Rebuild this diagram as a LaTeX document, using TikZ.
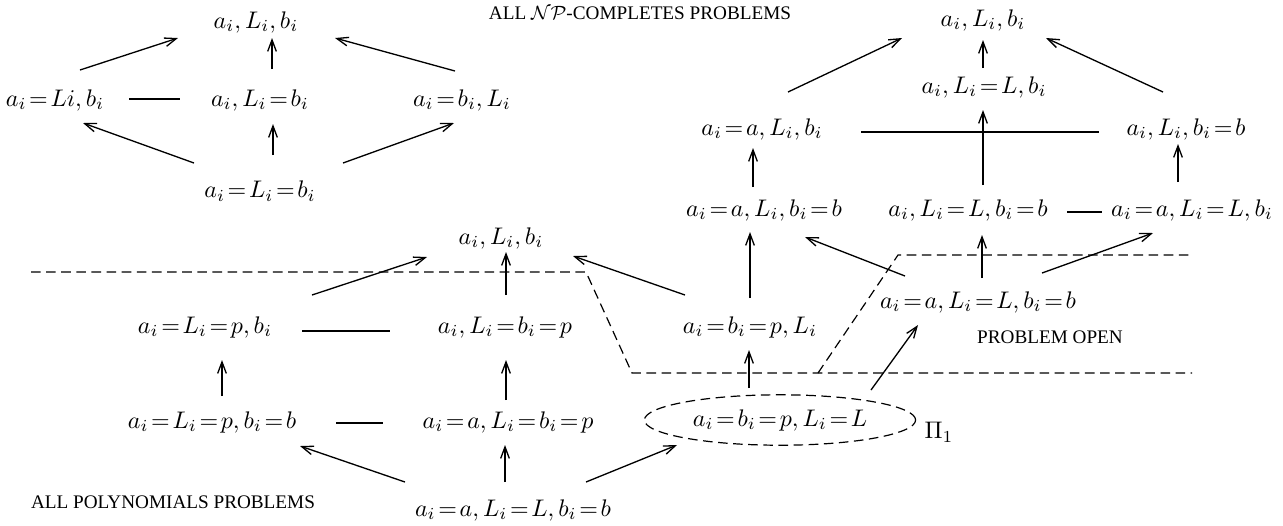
\documentclass[tikz,border=0pt]{standalone}
\usepackage{fontspec}
\setmainfont{Liberation Serif}
\usetikzlibrary{arrows.meta,shapes.geometric}
\newcommand{\eq}{\mkern2mu{=}\mkern2mu}

\begin{document}
\begin{tikzpicture}[x=0.41667pt, y=-0.41667pt,
		>={Straight Barb[length=4.8pt,width=3.6pt]},   %Pfeilspitzen
		conn/.style={line width=0.55pt},
		border/.style={line width=0.5pt, dash pattern=on 4pt off 2.3pt},
		caption/.style={font=\fontsize{8}{9}\selectfont},
		every node/.style={inner sep=0pt}]
	%Bildbereich
	\useasboundingbox (0,0) rectangle (1283,525);
	%Beschriftungen
	\node[caption] (npc) at (640,13) {ALL $\mathcal{N}\mathcal{P}$-COMPLETES PROBLEMS};
	\node[caption] (poly) at (173,502) {ALL POLYNOMIALS PROBLEMS};
	\node[caption] (open) at (1050,337) {PROBLEM OPEN};
	%Grenzen zeichnen
	\draw[border] (31,272) -- (586,272) -- (632,373) -- (1192,373);
	\draw[border] (818,373) -- (898,255) -- (1192,255);
	%Knoten oben links
	\node (tlA) at (256,22) {$a_i, L_i, b_i$};
	\node (tlB) at (55,100) {$a_i\eq Li, b_i$};
	\node (tlC) at (260,100) {$a_i, L_i\eq b_i$};
	\node (tlD) at (462,100) {$a_i\eq b_i, L_i$};
	\node (tlE) at (260,191) {$a_i\eq L_i\eq b_i$};
	%Knoten oben rechts
	\node (trA) at (983,20) {$a_i, L_i, b_i$};
	\node (trB) at (984,87) {$a_i, L_i\eq L, b_i$};
	\node (trC) at (762,129) {$a_i\eq a, L_i, b_i$};
	\node (trD) at (1186,129) {$a_i, L_i, b_i\eq b$};
	\node (trE) at (764,210) {$a_i\eq a, L_i, b_i\eq b$};
	\node (trF) at (968,210) {$a_i, L_i\eq L, b_i\eq b$};
	\node (trG) at (1192,210) {$a_i\eq a, L_i\eq L, b_i$};
	%Knoten unten
	\node (mA) at (501,238) {$a_i, L_i, b_i$};
	\node (mB) at (205,327) {$a_i\eq L_i\eq p, b_i$};
	\node (mC) at (505,327) {$a_i, L_i\eq b_i\eq p$};
	\node (mD) at (750,327) {$a_i\eq b_i\eq p, L_i$};
	\node (mE) at (978,302) {$a_i\eq a, L_i\eq L, b_i\eq b$};
	\node (mF) at (212,422) {$a_i\eq L_i\eq p, b_i\eq b$};
	\node (mG) at (508,422) {$a_i\eq a, L_i\eq b_i\eq p$};
	\node[ellipse, draw, border, minimum width=113pt, minimum height=21pt] (mH) at (780,420) {$a_i\eq b_i\eq p, L_i\eq L$};
	\node (pi) at (939,432) {$\Pi_1$};
	\node (mI) at (513,510) {$a_i\eq a, L_i\eq L, b_i\eq b$};
	%Pfeile oben links
	\foreach \a/\sa/\b/\sb in {tlB/{25,-30}/tlA/{-78,16}, tlC/{12,-31}/tlA/{16,16},
		tlD/{-7,-29}/tlA/{79,16}, tlE/{-66,-28}/tlB/{28,23}, tlE/{13,-36}/tlC/{13,24},
		tlE/{83,-28}/tlD/{-8,23}}
		\draw[conn,->] ([shift={(\sa)}]\a.center) -- ([shift={(\sb)}]\b.center);
	%Pfeile oben rechts
	\foreach \a/\sa/\b/\sb in {trC/{26,-37}/trA/{-81,18}, trB/{-1,-19}/trA/{0,20},
		trD/{-23,-37}/trA/{63,18}, trF/{15,-25}/trB/{-1,23}, trE/{-11,-23}/trC/{-9,19},
		trG/{-14,-28}/trD/{-8,15}}
		\draw[conn,->] ([shift={(\sa)}]\a.center) -- ([shift={(\sb)}]\b.center);
	%Pfeile unten
	\foreach \a/\sa/\b/\sb in {mB/{107,-32}/mA/{-74,19}, mC/{1,-32}/mA/{5,14},
		mD/{-65,-32}/mA/{72,18}, mF/{10,-26}/mB/{17,33}, mG/{-2,-22}/mC/{1,33},
		mI/{-108,-28}/mF/{88,24}, mI/{-8,-28}/mG/{-3,23}, mI/{73,-28}/mH/{-103,25},
		mD/{0,-29}/trE/{-14,22}, mH/{-31,-32}/mD/{-1,23}, mH/{91,-30}/mE/{-60,23},
		mE/{-73,-26}/trE/{41,27}, mE/{4,-24}/trF/{14,25}, mE/{64,-29}/trG/{-39,23}}
		\draw[conn,->] ([shift={(\sa)}]\a.center) -- ([shift={(\sb)}]\b.center);
	%Querverbindungen
	\draw[conn] ([shift={(74,-1)}]tlB.center) -- ([shift={(-80,-1)}]tlC.center);
	\draw[conn] ([shift={(99,3)}]trC.center) -- ([shift={(-87,3)}]trD.center);
	\draw[conn] ([shift={(99,2)}]trF.center) -- ([shift={(-90,2)}]trG.center);
	\draw[conn] ([shift={(97,4)}]mB.center) -- ([shift={(-115,4)}]mC.center);
	\draw[conn] ([shift={(124,1)}]mF.center) -- ([shift={(-125,1)}]mG.center);
\end{tikzpicture}
\end{document}
